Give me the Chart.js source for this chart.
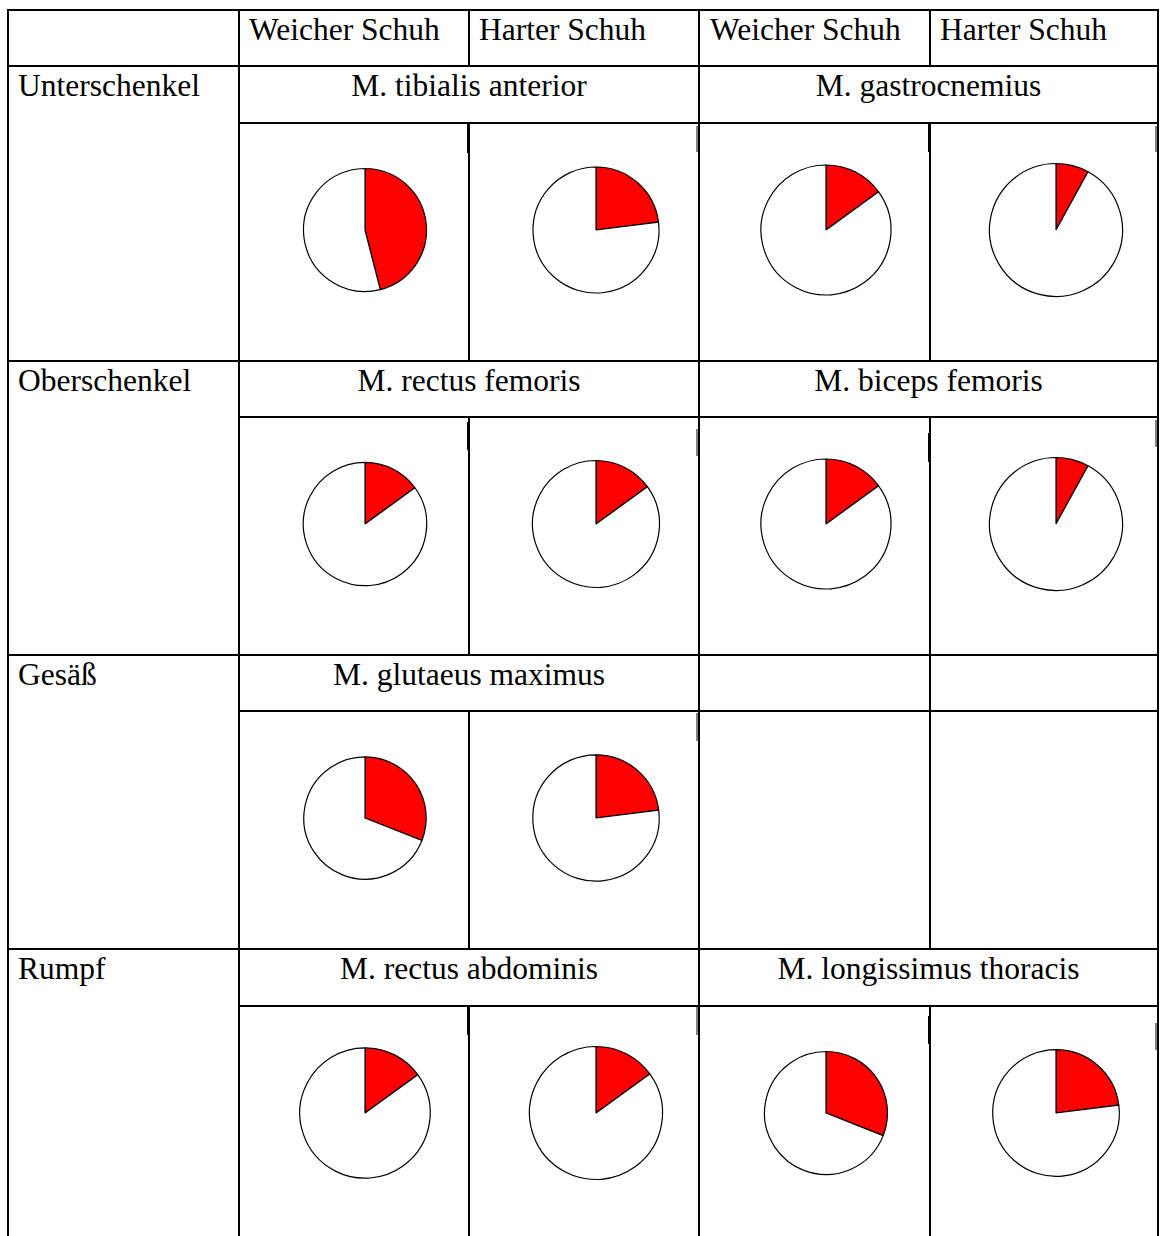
<!DOCTYPE html>
<html lang="de">
<head>
<meta charset="utf-8">
<title>Muskelaktivität – weicher und harter Schuh</title>
<script src="https://cdn.jsdelivr.net/npm/chart.js@4/dist/chart.umd.min.js"></script>
<style>
  html, body { margin: 0; padding: 0; background: #fff; }
  #sheet { position: relative; width: 1160px; height: 1236px; overflow: hidden; background: #fff; }
  .rule { position: absolute; background: #000; }
  .mark { position: absolute; }
  .txt {
    position: absolute;
    font-family: "Liberation Serif", "Times New Roman", serif;
    font-size: 31.5px;
    line-height: 31.5px;
    color: #000;
    white-space: nowrap;
  }
  .pie { position: absolute; }
</style>
</head>
<body>
<div id="sheet"></div>
<script>
// Körperregionen (Tabellenzeilen)
const regions = ['Unterschenkel', 'Oberschenkel', 'Gesäß', 'Rumpf'];
// Spaltenköpfe
const shoeHeaders = ['Weicher Schuh', 'Harter Schuh', 'Weicher Schuh', 'Harter Schuh'];
// Muskeln je Region, linkes und rechtes Spaltenpaar
const musclesLeft = ['M. tibialis anterior', 'M. rectus femoris', 'M. glutaeus maximus', 'M. rectus abdominis'];
const musclesRight = ['M. gastrocnemius', 'M. biceps femoris', null, 'M. longissimus thoracis'];
// Anteil in % (roter Sektor) je Muskel und Schuh
const softLeft  = [46, 15, 31, 15];
const hardLeft  = [23, 15, 23, 15];
const softRight = [15, 15, null, 31];
const hardRight = [8, 8, null, 23];

// ---- Layout ----
const sheet = document.getElementById('sheet');
const PAGE_W = 1160, PAGE_H = 1236, LINE = 2;
const RULE_X = [7, 238, 468, 698, 929, 1157];              // linke Kante der senkrechten Linien
const RULE_Y = [9, 65, 122, 360, 416, 654, 710, 948, 1005]; // obere Kante der waagerechten Linien
const PIE_X = [365, 596, 826, 1056];                         // Kreismittelpunkte je Spalte
const PIE_DY = 108;                                          // Abstand Zeilenoberkante -> Kreismitte
// Radius jedes Kreisdiagramms (Zeile x Spalte)
const PIE_R = [
  [61.5, 63, 65, 66.5],
  [61.7, 63.5, 65, 66.5],
  [61.2, 63.2, 0, 0],
  [65.2, 66.5, 61.5, 63.3]
];
// Rahmenkanten der eingebetteten Grafiken: [x, y0, y1, dunkel?]
const FRAME_MARKS = [
  [468, 123, 153, true], [698, 126, 152, false], [929, 123, 152, true], [1157, 126, 152, false],
  [468, 422, 450, true], [698, 429, 456, false], [929, 433, 462, true], [1157, 420, 447, false],
  [698, 713, 741, false],
  [468, 1007, 1035, true], [698, 1007, 1035, false], [929, 1016, 1044, true], [1157, 1023, 1050, false]
];
const BASE_OFFSET = 26.4; // Oberkante Textzeile -> Grundlinie

function box(cls, x, y, w, h, color) {
  const d = document.createElement('div');
  d.className = cls;
  d.style.left = x + 'px'; d.style.top = y + 'px';
  d.style.width = w + 'px'; d.style.height = h + 'px';
  if (color) d.style.background = color;
  sheet.appendChild(d);
  return d;
}
function hRule(y, x0, x1) { box('rule', x0, y, x1 - x0, LINE); }
function vRule(x, y0, y1) { box('rule', x, y0, LINE, y1 - y0); }

function text(str, x, baseline, width, align) {
  const d = document.createElement('div');
  d.className = 'txt';
  d.textContent = str;
  d.style.left = x + 'px';
  d.style.top = (baseline - BASE_OFFSET) + 'px';
  if (width) { d.style.width = width + 'px'; d.style.textAlign = align || 'left'; }
  sheet.appendChild(d);
}

function makePie(cx, cy, r, value) {
  const size = 150;
  const cv = document.createElement('canvas');
  cv.className = 'pie';
  cv.width = size; cv.height = size;
  cv.style.width = size + 'px'; cv.style.height = size + 'px';
  cv.style.left = (cx - size / 2) + 'px';
  cv.style.top = (cy - size / 2) + 'px';
  sheet.appendChild(cv);
  new Chart(cv, {
    type: 'pie',
    data: {
      labels: ['Anteil', 'Rest'],
      datasets: [{
        data: [value, 100 - value],
        backgroundColor: ['#ff0000', '#ffffff'],
        borderColor: '#000000',
        borderWidth: 1.2
      }]
    },
    options: {
      responsive: false,
      maintainAspectRatio: false,
      devicePixelRatio: 1,
      animation: false,
      events: [],
      radius: r,
      layout: { padding: 0 },
      plugins: { legend: { display: false }, tooltip: { enabled: false } }
    }
  });
}

// Rahmenkanten (unter den Linien)
FRAME_MARKS.forEach(([x, y0, y1, dark]) => {
  if (dark) box('mark', x - 1, y0, 3, y1 - y0, '#000');
  else box('mark', x - 2, y0, 2, y1 - y0, '#808080');
});

// Außenrahmen, Regionsspalte und Trennung der Spaltenpaare: durchgehend
const xL = RULE_X[0], xR = RULE_X[5] + LINE;
hRule(RULE_Y[0], xL, xR);
hRule(RULE_Y[1], xL, xR);
[0, 1, 3, 5].forEach(k => vRule(RULE_X[k], RULE_Y[0], PAGE_H));
// Kopfzeile: Trennlinien innerhalb der Paare
vRule(RULE_X[2], RULE_Y[0], RULE_Y[1] + LINE);
vRule(RULE_X[4], RULE_Y[0], RULE_Y[1] + LINE);
const headPad = [11, 11, 12, 11];
shoeHeaders.forEach((h, c) => text(h, RULE_X[c + 1] + LINE + headPad[c] - 2, RULE_Y[0] + 31));

const seriesByCol = [softLeft, hardLeft, softRight, hardRight];

regions.forEach((region, i) => {
  const titleTop = RULE_Y[1 + 2 * i];
  const pieTop = RULE_Y[2 + 2 * i];
  const bottom = (3 + 2 * i < RULE_Y.length) ? RULE_Y[3 + 2 * i] : PAGE_H;

  hRule(pieTop, RULE_X[1], xR);
  if (bottom < PAGE_H) hRule(bottom, xL, xR);

  // Trennlinien innerhalb der Spaltenpaare
  vRule(RULE_X[2], pieTop, Math.min(bottom + LINE, PAGE_H));
  vRule(RULE_X[4], musclesRight[i] ? pieTop : titleTop, Math.min(bottom + LINE, PAGE_H));

  const baseline = titleTop + 31.5;
  text(region, 18, baseline);
  const gL = RULE_X[1] + LINE, gM = RULE_X[3], gR = RULE_X[5];
  text(musclesLeft[i], gL, baseline, gM - gL, 'center');
  if (musclesRight[i]) text(musclesRight[i], gM + LINE, baseline, gR - gM - LINE, 'center');

  seriesByCol.forEach((series, c) => {
    const v = series[i];
    if (v === null || v === undefined) return;
    makePie(PIE_X[c], pieTop + PIE_DY, PIE_R[i][c], v);
  });
});
</script>
</body>
</html>
